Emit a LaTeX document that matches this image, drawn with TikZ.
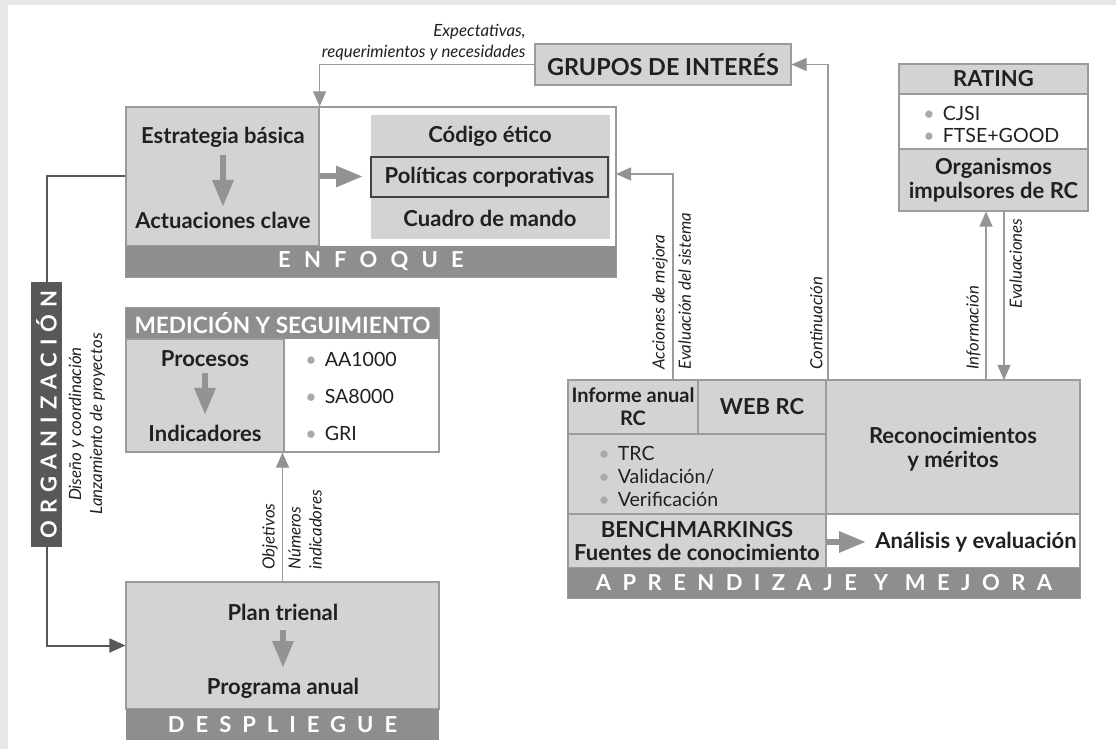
\documentclass[tikz,border=0pt]{standalone}
\usepackage{fontspec}
\setmainfont{Lato}
\usetikzlibrary{arrows.meta,positioning,fit,calc}
\definecolor{Ink}{HTML}{231F20}
\definecolor{Fill}{HTML}{D3D3D5}
\definecolor{Band}{HTML}{8E8E90}
\definecolor{Frame}{HTML}{9B9B9D}
\definecolor{Shaft}{HTML}{939395}
\definecolor{Org}{HTML}{58585A}
\definecolor{Margin}{HTML}{E6E7E8}
\definecolor{Dot}{HTML}{A7A9AC}
\tikzset{
  cellbox/.style={draw=Frame,fill=Fill,line width=0.6pt,inner sep=0pt},
  plainbox/.style={draw=Frame,fill=white,line width=0.6pt,inner sep=0pt},
  bandbox/.style={fill=Band,inner sep=0pt},
  headtext/.style={font=\fontsize{11}{11.8}\selectfont\bfseries,text=Ink,align=center,inner sep=0pt},
  bandtext/.style={font=\fontsize{11}{12}\selectfont\bfseries\addfontfeature{LetterSpace=#1},text=white,inner sep=0pt},
  bandtext/.default=60,
  itemtext/.style={font=\fontsize{9.8}{11.5}\selectfont,text=Ink,anchor=west,inner sep=0pt},
  note/.style={font=\fontsize{8.4}{10.5}\selectfont\itshape,text=Ink,inner sep=1pt},
  link/.style={draw=Frame,line width=0.6pt},
  linkarrow/.style={link,-{Triangle[width=6.5pt,length=7.5pt,color=Shaft]}},
  orgline/.style={draw=Org,line width=1pt},
  orgarrow/.style={orgline,-{Triangle[width=7pt,length=8pt]}},
  bigarrow/.style={draw=Shaft,line width=3pt,-{Triangle[width=10pt,length=13.5pt]}}
}
\newcommand{\dotitem}{{\color{Dot}\textbullet}\hspace{4pt}}

\begin{document}
\begin{tikzpicture}[x=0.5pt,y=-0.5pt]
  \useasboundingbox (0,0) rectangle (1116,749);
  \fill[white] (0,0) rectangle (1116,749);
  \fill[Margin] (0,0) rectangle (1116,5);
  \fill[Margin] (0,0) rectangle (8,749);

  % enfoque
  \node[plainbox,fit={(126,107)(616,277)}] (enf) {};
  \node[cellbox,fit={(126,107)(319,246)}] (strat) {};
  \node[bandbox,fit={(126,246)(616,277)}] (enfband) {};
  \node[bandtext] at (enfband.center) {ENFOQUE};
  \node[fill=Fill,inner sep=0pt,fit={(371,115)(610,239)}] (docs) {};
  \node[draw=Ink!85,line width=0.6pt,inner sep=0pt,fit={(371,157)(608,197)}] (pol) {};
  \node[headtext] (estr) at (223,137) {Estrategia básica};
  \node[headtext] (actu) at (223,220) {Actuaciones clave};
  \node[headtext] (cod) at (490,136) {Código ético};
  \node[headtext] at (pol.center) {Políticas corporativas};
  \node[headtext] (cuad) at (490,218) {Cuadro de mando};
  \draw[bigarrow] (223,155) -- (223,207);
  \draw[bigarrow] (strat.east) -- (363,176.5);

  % grupos de interes
  \node[cellbox,fit={(535,44)(791,85)}] (grupos) {};
  \node[headtext,font=\fontsize{11.7}{13}\selectfont\bfseries] at (grupos.center) {GRUPOS DE INTERÉS};
  \draw[linkarrow] (grupos.west) -| (strat.north east);
  \node[note,align=right,anchor=east] (expl) at (528,42) {Expectativas,\\requerimientos y necesidades};

  % rating
  \node[plainbox,fit={(899,64)(1088,211)}] (rating) {};
  \node[cellbox,fit={(899,64)(1088,94)}] (rathead) {};
  \node[cellbox,fit={(899,149)(1088,211)}] (organ) {};
  \node[headtext] at (rathead.center) {RATING};
  \node[itemtext] at (923,113) {\dotitem CJSI};
  \node[itemtext] at (923,135) {\dotitem FTSE+GOOD};
  \node[headtext,font=\fontsize{11}{12.2}\selectfont\bfseries] at (organ.center) {Organismos\\impulsores de RC};

  % organizacion
  \node[fill=Org,inner sep=0pt,fit={(31,282)(62,547)}] (org) {};
  \node[bandtext=32,rotate=90] at (org.center) {ORGANIZACIÓN};
  \node[note,rotate=90,align=center] (orgl) at (87,424) {Diseño y coordinación\\Lanzamiento de proyectos};

  % medicion y seguimiento
  \node[plainbox,fit={(126,308)(439,452)}] (med) {};
  \node[bandbox,fit={(126,308)(439,339)}] (medhead) {};
  \node[headtext,text=white,font=\fontsize{11.3}{12}\selectfont\bfseries] at (medhead.center) {MEDICIÓN Y SEGUIMIENTO};
  \node[cellbox,fit={(126,339)(284,452)}] (medl) {};
  \node[headtext] (proc) at (205,359) {Procesos};
  \node[headtext] (indi) at (205,433) {Indicadores};
  \draw[bigarrow] (205,373) -- (205,415);
  \foreach \txt/\y in {AA1000/359,SA8000/396,GRI/433}
    \node[itemtext] at (305,\y) {\dotitem\txt};

  % despliegue
  \node[cellbox,fit={(126,582)(439,709)}] (des) {};
  \node[bandbox,fit={(126,709)(439,740)}] (desband) {};
  \node[bandtext=50] at (desband.center) {DESPLIEGUE};
  \node[headtext] (plan) at (283,612) {Plan trienal};
  \node[headtext] (prog) at (283,688) {Programa anual};
  \draw[bigarrow] (283,630) -- (283,668);
  \draw[linkarrow] (des.north) -- (des.north |- medl.south);
  \node[note,rotate=90,anchor=south west] at (280,572) {Objetivos};
  \node[note,rotate=90,anchor=north west,align=left] at (286,572) {Números\\indicadores};

  % organizacion links
  \draw[orgline] (org.north) |- (strat.west);
  \draw[orgarrow] (org.south) |- (des.west);

  % aprendizaje y mejora
  \node[plainbox,fit={(568,380)(1080,598)}] (apr) {};
  \node[cellbox,fit={(568,380)(698,434)}] (inf) {};
  \node[cellbox,fit={(698,380)(826,434)}] (web) {};
  \node[cellbox,fit={(568,434)(826,514)}] (val) {};
  \node[cellbox,fit={(826,380)(1080,514)}] (rec) {};
  \node[cellbox,fit={(568,514)(826,568)}] (bench) {};
  \node[plainbox,fit={(826,514)(1080,568)}] (ana) {};
  \node[bandbox,fit={(568,568)(1080,598)}] (aprband) {};
  \node[bandtext=52] at (aprband.center) {APRENDIZAJE Y MEJORA};
  \node[headtext,font=\fontsize{10}{11.5}\selectfont\bfseries] at (inf.center) {Informe anual\\RC};
  \node[headtext] at (web.center) {WEB RC};
  \node[headtext] at (953,449) {Reconocimientos\\y méritos};
  \foreach \txt/\y in {TRC/453,{Validación/}/477,Verificación/499}
    \node[itemtext] at (598,\y) {\dotitem\txt};
  \node[headtext] at (bench.center) {BENCHMARKINGS\\Fuentes de conocimiento};
  \node[headtext] (anat) at (976,542) {Análisis y evaluación};
  \draw[bigarrow] (bench.east |- anat) -- (866,542);

  % links from aprendizaje
  \coordinate (accb) at (673,380);
  \coordinate (acct) at (616,174);
  \coordinate (contb) at (828,380);
  \coordinate (infb) at (986,380);
  \coordinate (evab) at (1004,380);
  \draw[linkarrow] (accb) |- (acct);
  \draw[linkarrow] (contb) |- (grupos.east);
  \draw[linkarrow] (infb) -- (infb |- rating.south);
  \draw[linkarrow] (evab |- rating.south) -- (evab);
  \node[note,rotate=90,anchor=south west] at (670,372) {Acciones de mejora};
  \node[note,rotate=90,anchor=north west] at (676,372) {Evaluación del sistema};
  \node[note,rotate=90,anchor=south west] at (825,372) {Continuación};
  \node[note,rotate=90,anchor=south west] at (983,372) {Información};
  \node[note,rotate=90,anchor=north east] at (1007,216) {Evaluaciones};
\end{tikzpicture}
\end{document}
